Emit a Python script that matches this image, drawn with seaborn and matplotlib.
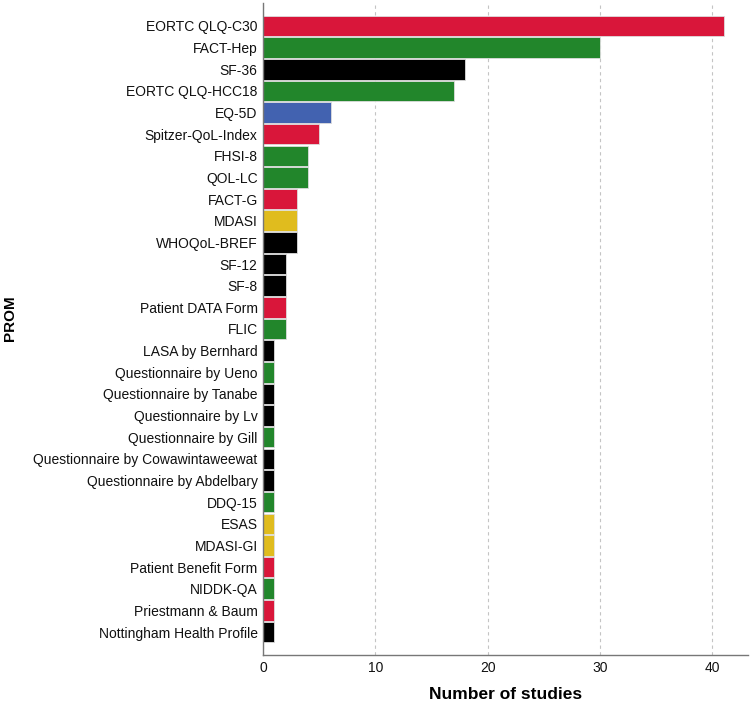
import seaborn as sns
import pandas as pd
import matplotlib.pyplot as plt

proms = ["EORTC QLQ-C30", "FACT-Hep", "SF-36", "EORTC QLQ-HCC18", "EQ-5D",
         "Spitzer-QoL-Index", "FHSI-8", "QOL-LC", "FACT-G", "MDASI",
         "WHOQoL-BREF", "SF-12", "SF-8", "Patient DATA Form", "FLIC",
         "LASA by Bernhard", "Questionnaire by Ueno", "Questionnaire by Tanabe",
         "Questionnaire by Lv", "Questionnaire by Gill",
         "Questionnaire by Cowawintaweewat", "Questionnaire by Abdelbary",
         "DDQ-15", "ESAS", "MDASI-GI", "Patient Benefit Form", "NIDDK-QA",
         "Priestmann & Baum", "Nottingham Health Profile"]
studies = [41, 30, 18, 17, 6, 5, 4, 4, 3, 3, 3, 2, 2, 2, 2,
           1, 1, 1, 1, 1, 1, 1, 1, 1, 1, 1, 1, 1, 1]
group = ["red", "green", "black", "green", "blue", "red", "green", "green",
         "red", "yellow", "black", "black", "black", "red", "green",
         "black", "green", "black", "black", "green", "black", "black",
         "green", "yellow", "yellow", "red", "green", "red", "black"]

palette = {"red": "#D9163A", "green": "#22862B", "black": "#000000",
           "blue": "#4262B0", "yellow": "#E0BC1E"}

df = pd.DataFrame({"PROM": proms, "Number of studies": studies, "group": group})

sns.set_style("white")
plt.rcParams["font.family"] = ["Liberation Sans", "DejaVu Sans"]

fig = plt.figure(figsize=(7.52, 7.06), dpi=100)
ax = fig.add_axes([0.35, 0.072, 0.645, 0.924])

sns.barplot(data=df, y="PROM", x="Number of studies", hue="group",
            palette=palette, dodge=False, legend=False, width=0.95,
            saturation=1, edgecolor="#dddddd", linewidth=0.6, ax=ax)

ax.set_xlim(0, 43.2)
ax.set_ylim(len(proms) - 1 + 1.07, -1.07)
ax.set_xticks([0, 10, 20, 30, 40])
ax.xaxis.grid(True, linestyle=(0, (3, 3)), color="#c4c4c4", linewidth=0.8)
ax.set_axisbelow(True)
ax.tick_params(axis="both", length=0, labelsize=10, colors="#111111", pad=4)
for s in ["top", "right"]:
    ax.spines[s].set_visible(False)
for s in ["left", "bottom"]:
    ax.spines[s].set_color("#777777")
    ax.spines[s].set_linewidth(1)

ax.set_xlabel("Number of studies", fontsize=12.5, fontweight="bold", color="black")
ax.set_ylabel("PROM", fontsize=11, fontweight="bold", color="black")
ax.xaxis.set_label_coords(0.5, -0.049)
ax.yaxis.set_label_coords(-0.507, 0.517)

fig.savefig("out.png", dpi=100)
